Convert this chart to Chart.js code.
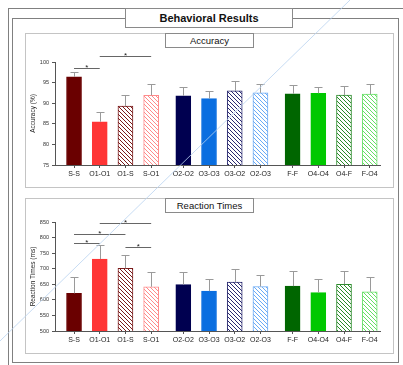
<!DOCTYPE html>
<html><head><meta charset="utf-8">
<script src="https://cdn.jsdelivr.net/npm/chart.js@4"></script>
<style>
html,body{margin:0;padding:0;background:#fff;width:403px;height:365px;overflow:hidden;font-family:"Liberation Sans",Arial,sans-serif;}
.abs{position:absolute;box-sizing:border-box;}
.outer{left:8px;top:8px;width:420px;height:380px;border:1px solid #808080;}
.inner{left:12px;top:18px;width:387px;height:345px;border:1px solid #808080;}
.panel{border:1px solid #c4c4c4;background:#fff;}
.tbox{background:#fff;border:1px solid #8a8a8a;text-align:center;color:#111;}
canvas{position:absolute;}
</style></head>
<body>
<div class="abs outer"></div>
<div class="abs inner"></div>
<div class="abs tbox" style="left:125px;top:8px;width:168px;height:20px;font-weight:bold;font-size:11px;line-height:18px;">Behavioral Results</div>
<div class="abs panel" style="left:25px;top:33px;width:369px;height:155px;"></div>
<div class="abs panel" style="left:25px;top:198px;width:369px;height:156px;"></div>
<canvas id="acc" width="368" height="155" style="left:25px;top:33px;width:368px;height:155px;"></canvas>
<canvas id="rt" width="368" height="155" style="left:25px;top:198px;width:368px;height:155px;"></canvas>
<div class="abs tbox" style="left:165px;top:33px;width:89px;height:15px;font-size:9.5px;line-height:13px;">Accuracy</div>
<div class="abs tbox" style="left:165px;top:198px;width:89px;height:15px;font-size:9.5px;line-height:13px;">Reaction Times</div>
<svg class="abs" style="left:0;top:0;pointer-events:none" width="403" height="365"><line x1="0" y1="341" x2="350" y2="0" stroke="#b9d3f0" stroke-width="1" opacity="0.8"/></svg>
<script>
const categories = ['S-S','O1-O1','O1-S','S-O1','O2-O2','O3-O3','O3-O2','O2-O3','F-F','O4-O4','O4-F','F-O4'];
const accMean  = [96.4, 85.5, 89.3, 91.9, 91.8, 91.1, 93.0, 92.5, 92.3, 92.4, 92.0, 92.2];
const accUpper = [97.6, 87.9, 91.9, 94.6, 94.0, 92.9, 95.5, 94.7, 94.3, 94.0, 94.2, 94.6];
const rtMean   = [621, 731, 701, 642, 649, 628, 657, 643, 644, 623, 650, 626];
const rtUpper  = [673, 775, 745, 690, 690, 666, 700, 679, 693, 666, 693, 673];
const accTicks = [75, 80, 85, 90, 95, 100];
const rtTicks  = [500, 550, 600, 650, 700, 750, 800, 850];
const accSig = [[0, 1, 98.5], [1, 3, 101.5]];
const rtSig  = [[0, 1, 784], [0, 2, 813], [1, 3, 846], [2, 3, 771]];

const FONT = '"Liberation Sans", Arial, sans-serif';
const baseColors = ['#6a0000','#ff3535','#7a1a1a','#ff8a8a','#000050','#0a6ee0','#2a2a70','#6aaaf5','#006600','#00c800','#2a8a2a','#66e066'];
const hatched = [false,false,true,true,false,false,true,true,false,false,true,true];
const pos = categories.map((c, i) => i + 0.25 * Math.floor(i / 4));

function hatch(color) {
  const s = 4, c = document.createElement('canvas');
  c.width = s; c.height = s;
  const g = c.getContext('2d');
  g.fillStyle = '#fff'; g.fillRect(0, 0, s, s);
  g.strokeStyle = color; g.lineWidth = 1;
  g.beginPath();
  for (const k of [-s, 0, s]) { g.moveTo(k, 0); g.lineTo(k + s, s); }
  g.stroke();
  return g.createPattern(c, 'repeat');
}
const fills = baseColors.map((c, i) => hatched[i] ? hatch(c) : c);

const extras = {
  id: 'extras',
  afterDatasetsDraw(chart, args, opts) {
    const ctx = chart.ctx, x = chart.scales.x, y = chart.scales.y;
    ctx.save();
    ctx.strokeStyle = '#9a9a9a'; ctx.lineWidth = 1;
    opts.upper.forEach((u, i) => {
      const px = Math.round(x.getPixelForValue(pos[i])) + 0.5;
      const y0 = y.getPixelForValue(opts.mean[i]);
      const y1 = Math.round(y.getPixelForValue(u)) + 0.5;
      ctx.beginPath();
      ctx.moveTo(px, y0); ctx.lineTo(px, y1);
      ctx.moveTo(px - 4, y1); ctx.lineTo(px + 4, y1);
      ctx.stroke();
    });
    ctx.strokeStyle = '#666'; ctx.fillStyle = '#222';
    ctx.font = '8px ' + FONT; ctx.textAlign = 'center'; ctx.textBaseline = 'alphabetic';
    opts.sig.forEach(([a, b, lv]) => {
      const xa = x.getPixelForValue(pos[a]), xb = x.getPixelForValue(pos[b]);
      const py = Math.round(y.getPixelForValue(lv)) + 0.5;
      ctx.beginPath(); ctx.moveTo(xa, py); ctx.lineTo(xb, py); ctx.stroke();
      ctx.fillText('*', (xa + xb) / 2, py + 1);
    });
    ctx.restore();
  }
};

function makeChart(id, mean, upper, ticks, sig, title, padTop, xH) {
  new Chart(document.getElementById(id), {
    type: 'bar',
    data: {
      datasets: [{
        data: mean.map((v, i) => ({ x: pos[i], y: v })),
        backgroundColor: fills,
        borderColor: baseColors,
        borderWidth: 1,
        barThickness: 15
      }]
    },
    options: {
      responsive: false, animation: false,
      layout: { autoPadding: false, padding: { left: 0, right: 13, top: padTop, bottom: 0 } },
      plugins: { legend: { display: false }, tooltip: { enabled: false },
        extras: { mean, upper, sig } },
      scales: {
        x: {
          type: 'linear', min: -0.74, max: 11.9, offset: false,
          afterBuildTicks: s => { s.ticks = pos.map(v => ({ value: v })); },
          afterFit: s => { s.height = xH; },
          ticks: { callback: (v, i) => categories[i], font: { family: FONT, size: 7 }, color: '#222', padding: 2, maxRotation: 0, autoSkip: false },
          grid: { drawOnChartArea: false, drawTicks: true, tickLength: 3, color: '#555', offset: false },
          border: { display: true, color: '#555' }
        },
        y: {
          min: ticks[0], max: ticks[ticks.length - 1],
          afterBuildTicks: s => { s.ticks = ticks.map(v => ({ value: v })); },
          afterFit: s => { s.width = 30; },
          ticks: { font: { family: FONT, size: 5.5 }, color: '#333', padding: 3 },
          grid: { drawOnChartArea: false, drawTicks: true, tickLength: 3, color: '#555' },
          border: { display: true, color: '#555' },
          title: { display: true, text: title, font: { family: FONT, size: 6.5 }, color: '#222', padding: { top: 4, bottom: 0 } }
        }
      }
    },
    plugins: [extras]
  });
}
makeChart('acc', accMean, accUpper, accTicks, accSig, 'Accuracy (%)', 29, 23);
makeChart('rt', rtMean, rtUpper, rtTicks, rtSig, 'Reaction Times (ms)', 24, 22);
</script>
</body></html>
